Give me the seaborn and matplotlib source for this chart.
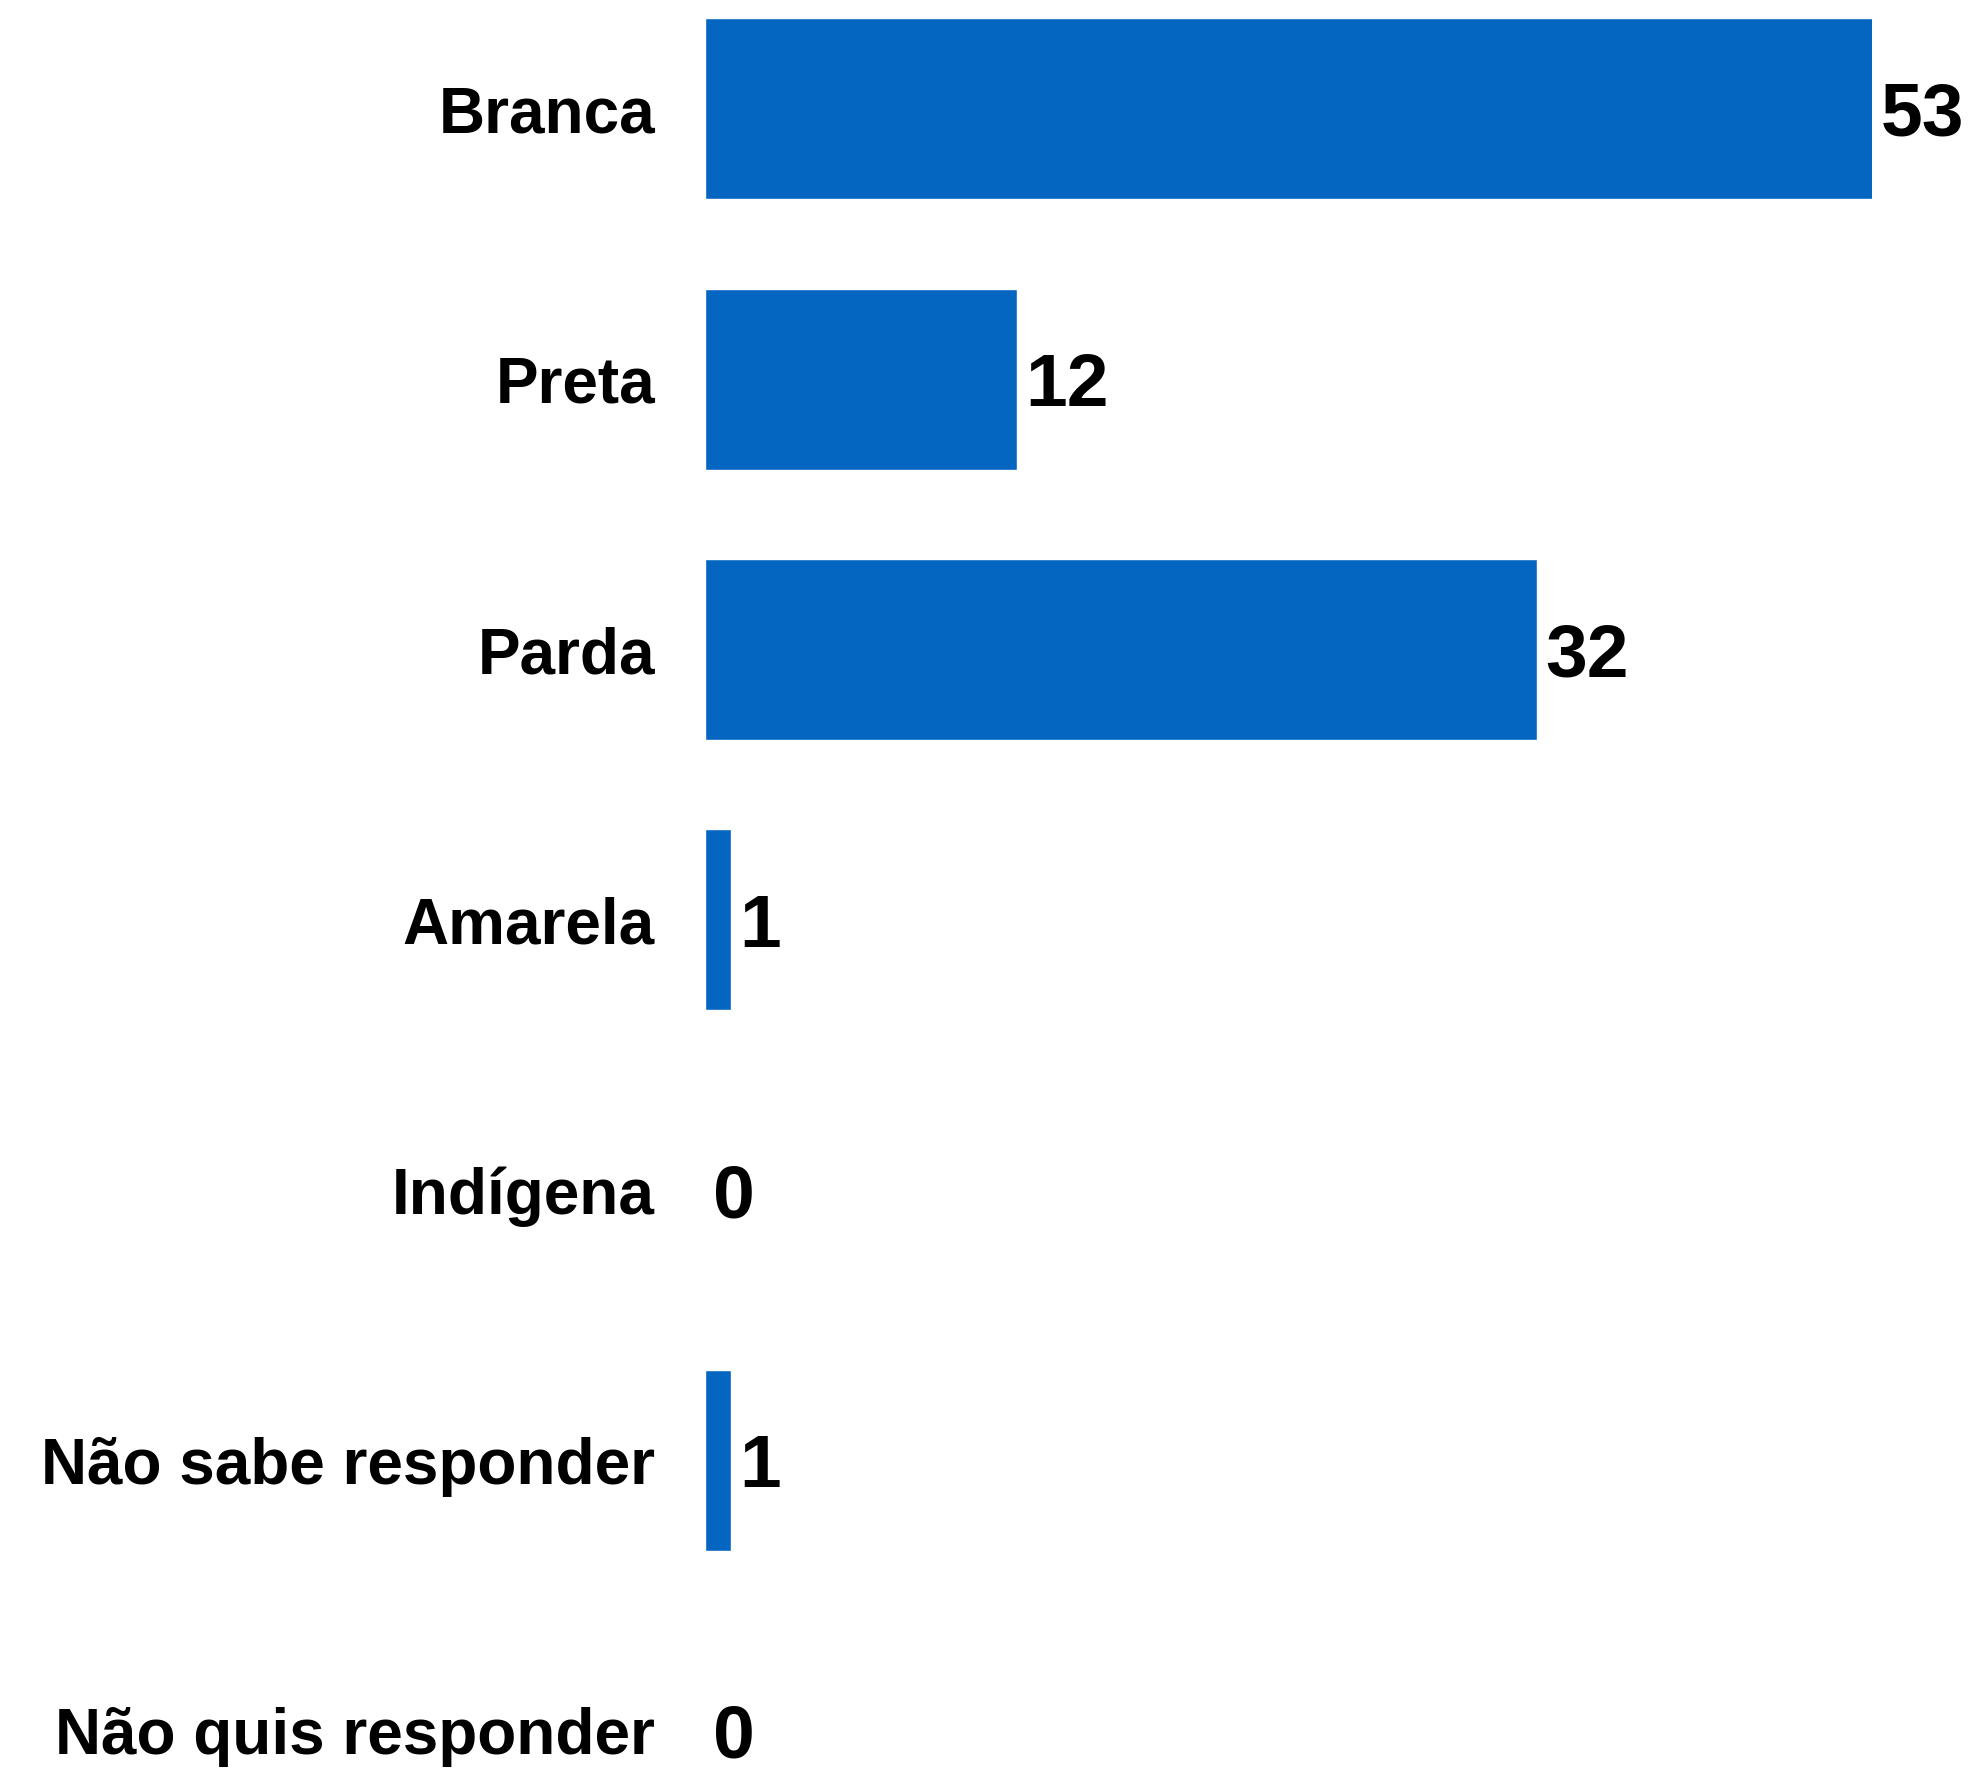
import numpy as np
import pandas as pd
import matplotlib
matplotlib.use('Agg')
import matplotlib.pyplot as plt
import seaborn as sns

categorias = ['Branca', 'Preta', 'Parda', 'Amarela', 'Indígena',
              'Não sabe responder', 'Não quis responder']
valores = [53, 12, 32, 1, 0, 1, 0]

df = pd.DataFrame({'categoria': categorias, 'valor': valores})

sns.set_style('white')
plt.rcParams['font.family'] = ['Liberation Sans', 'DejaVu Sans']

fig = plt.figure(figsize=(19.77, 17.70), dpi=100)
ax = fig.add_axes([0.3566, 0.0, 0.5903, 1.0])

sns.barplot(data=df, x='valor', y='categoria', color='#0466c0',
            width=0.67, saturation=1, ax=ax)

# o eixo é cortado; a barra de Branca fica truncada na borda
xmax = 44.9
ax.set_xlim(0, xmax)
ax.set_ylim(6.145, -0.403)

for i, v in enumerate(valores):
    ax.annotate(str(v), xy=(min(v, xmax), i), xytext=(6, 0),
                textcoords='offset points', va='center_baseline', ha='left',
                fontsize=54, fontweight='bold', color='black',
                annotation_clip=False)

ax.set_xlabel('')
ax.set_ylabel('')
ax.set_xticks([])
ax.tick_params(axis='y', length=0, pad=36, labelsize=46, labelcolor='black')
for lab in ax.get_yticklabels():
    lab.set_fontweight('bold')
    lab.set_va('center_baseline')
sns.despine(ax=ax, left=True, bottom=True)

fig.savefig('out.png', dpi=100)
